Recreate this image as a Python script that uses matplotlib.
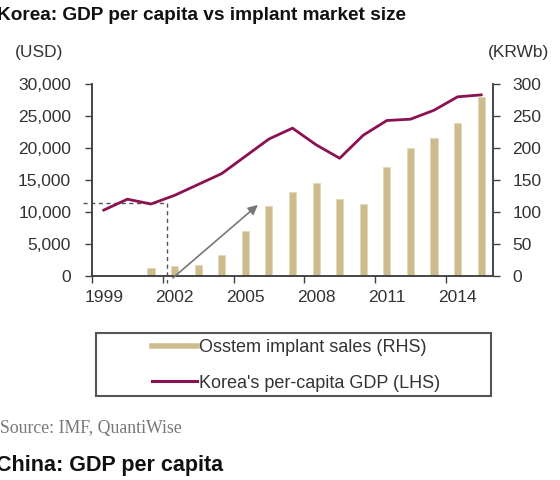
import matplotlib.pyplot as plt
from matplotlib.patches import Rectangle
from matplotlib.lines import Line2D
from matplotlib.ticker import FuncFormatter, FixedLocator

plt.rcParams['font.family'] = ['Liberation Sans', 'DejaVu Sans']

years = list(range(1999, 2016))
gdp = [10300, 12000, 11250, 12600, 14300, 16000, 18700, 21400, 23100,
       20500, 18400, 22000, 24300, 24500, 25900, 28000, 28300]
sales = [0, 0, 12, 15.5, 17, 33, 70, 109, 131, 146, 121, 112.5, 170,
         199.5, 216, 238.5, 280]
label_years = [1999, 2002, 2005, 2008, 2011, 2014]

line_col = '#8c1150'
bar_col = '#cdbd8e'
axis_col = '#404040'
text_col = '#333333'

fig = plt.figure(figsize=(5.6, 4.8), dpi=100)
ax = fig.add_axes([92 / 560, 1 - 276 / 480, 401 / 560, 192 / 480])
ax2 = ax.twinx()
ax.set_zorder(ax2.get_zorder() + 1)
ax.patch.set_visible(False)

x = list(range(len(years)))
ax2.bar(x, sales, width=0.3, color=bar_col, edgecolor='#e2d8b8', linewidth=0.6)
ax.plot(x, gdp, color=line_col, lw=2.0, solid_joinstyle='round')

ax.set_xlim(-0.5, len(years) - 0.5)
ax.set_ylim(0, 30000)
ax2.set_ylim(0, 300)
ax.set_yticks(range(0, 30001, 5000))
ax2.set_yticks(range(0, 301, 50))
ax.yaxis.set_major_formatter(FuncFormatter(lambda v, p: f'{int(v):,}'))

# labels centred under categories, tick marks on category boundaries
lab_pos = [years.index(y) for y in label_years]
ax.set_xticks(lab_pos)
ax.set_xticklabels([str(y) for y in label_years])
ax.xaxis.set_minor_locator(FixedLocator([p - 0.5 for p in lab_pos]))
ax.tick_params(axis='x', which='major', length=0, pad=10)
ax.tick_params(axis='x', which='minor', length=5, width=1, color=axis_col, direction='out')
ax.tick_params(axis='y', length=5, width=1, color=axis_col, pad=10)
ax2.tick_params(axis='y', length=5, width=1, color=axis_col, pad=9)
for a in (ax, ax2):
    a.tick_params(labelsize=12.5, labelcolor=text_col)
    a.spines['top'].set_visible(False)
    for s in ('left', 'right', 'bottom'):
        a.spines[s].set_color(axis_col)
        a.spines[s].set_linewidth(1.1)

# guide lines and arrow
guide_x = 2.66
guide_y = 11400
ax.plot([-0.88, guide_x], [guide_y, guide_y], ls=(0, (3, 2.5)), color='#555555',
        lw=1, clip_on=False, zorder=1)
ax.plot([guide_x, guide_x], [guide_y, -1100], ls=(0, (3, 2.5)), color='#555555',
        lw=1, clip_on=False, zorder=1)
ax.annotate('', xy=(6.53, 11100), xytext=(2.93, -300),
            arrowprops=dict(arrowstyle='-|>', color='#777777', lw=1.2,
                            mutation_scale=14, shrinkA=0, shrinkB=0),
            annotation_clip=False)

fig.text(-0.005, 0.968, 'Korea: GDP per capita vs implant market size',
         fontsize=13.7, fontweight='bold', va='center', ha='left', color='#111111')
fig.text(15 / 560, 1 - 52 / 480, '(USD)', fontsize=12.5, color=text_col, va='center')
fig.text(488 / 560, 1 - 52 / 480, '(KRWb)', fontsize=12.5, color=text_col, va='center')

# legend box
fig.add_artist(Rectangle((96 / 560, 1 - 396 / 480), 395 / 560, 63 / 480,
                         transform=fig.transFigure, fill=False,
                         edgecolor='#555555', lw=1.5))
handles = [Line2D([], [], color=bar_col, lw=4),
           Line2D([], [], color=line_col, lw=2.2)]
fig.legend(handles, ['Osstem implant sales (RHS)', "Korea's per-capita GDP (LHS)"],
           loc='center', bbox_to_anchor=(296 / 560, 1 - 365.5 / 480),
           frameon=False, fontsize=13, handlelength=2.5, handletextpad=0.15,
           labelspacing=1.0, labelcolor=text_col)

fig.text(0.0, 1 - 428 / 480, 'Source: IMF, QuantiWise', fontsize=12.8,
         family=['Liberation Serif', 'DejaVu Serif'], color='#777777', va='center')
fig.text(-0.007, 1 - 465 / 480, 'China: GDP per capita', fontsize=15.5,
         fontweight='bold', va='center', color='#111111')

fig.savefig('out.png', dpi=100)
